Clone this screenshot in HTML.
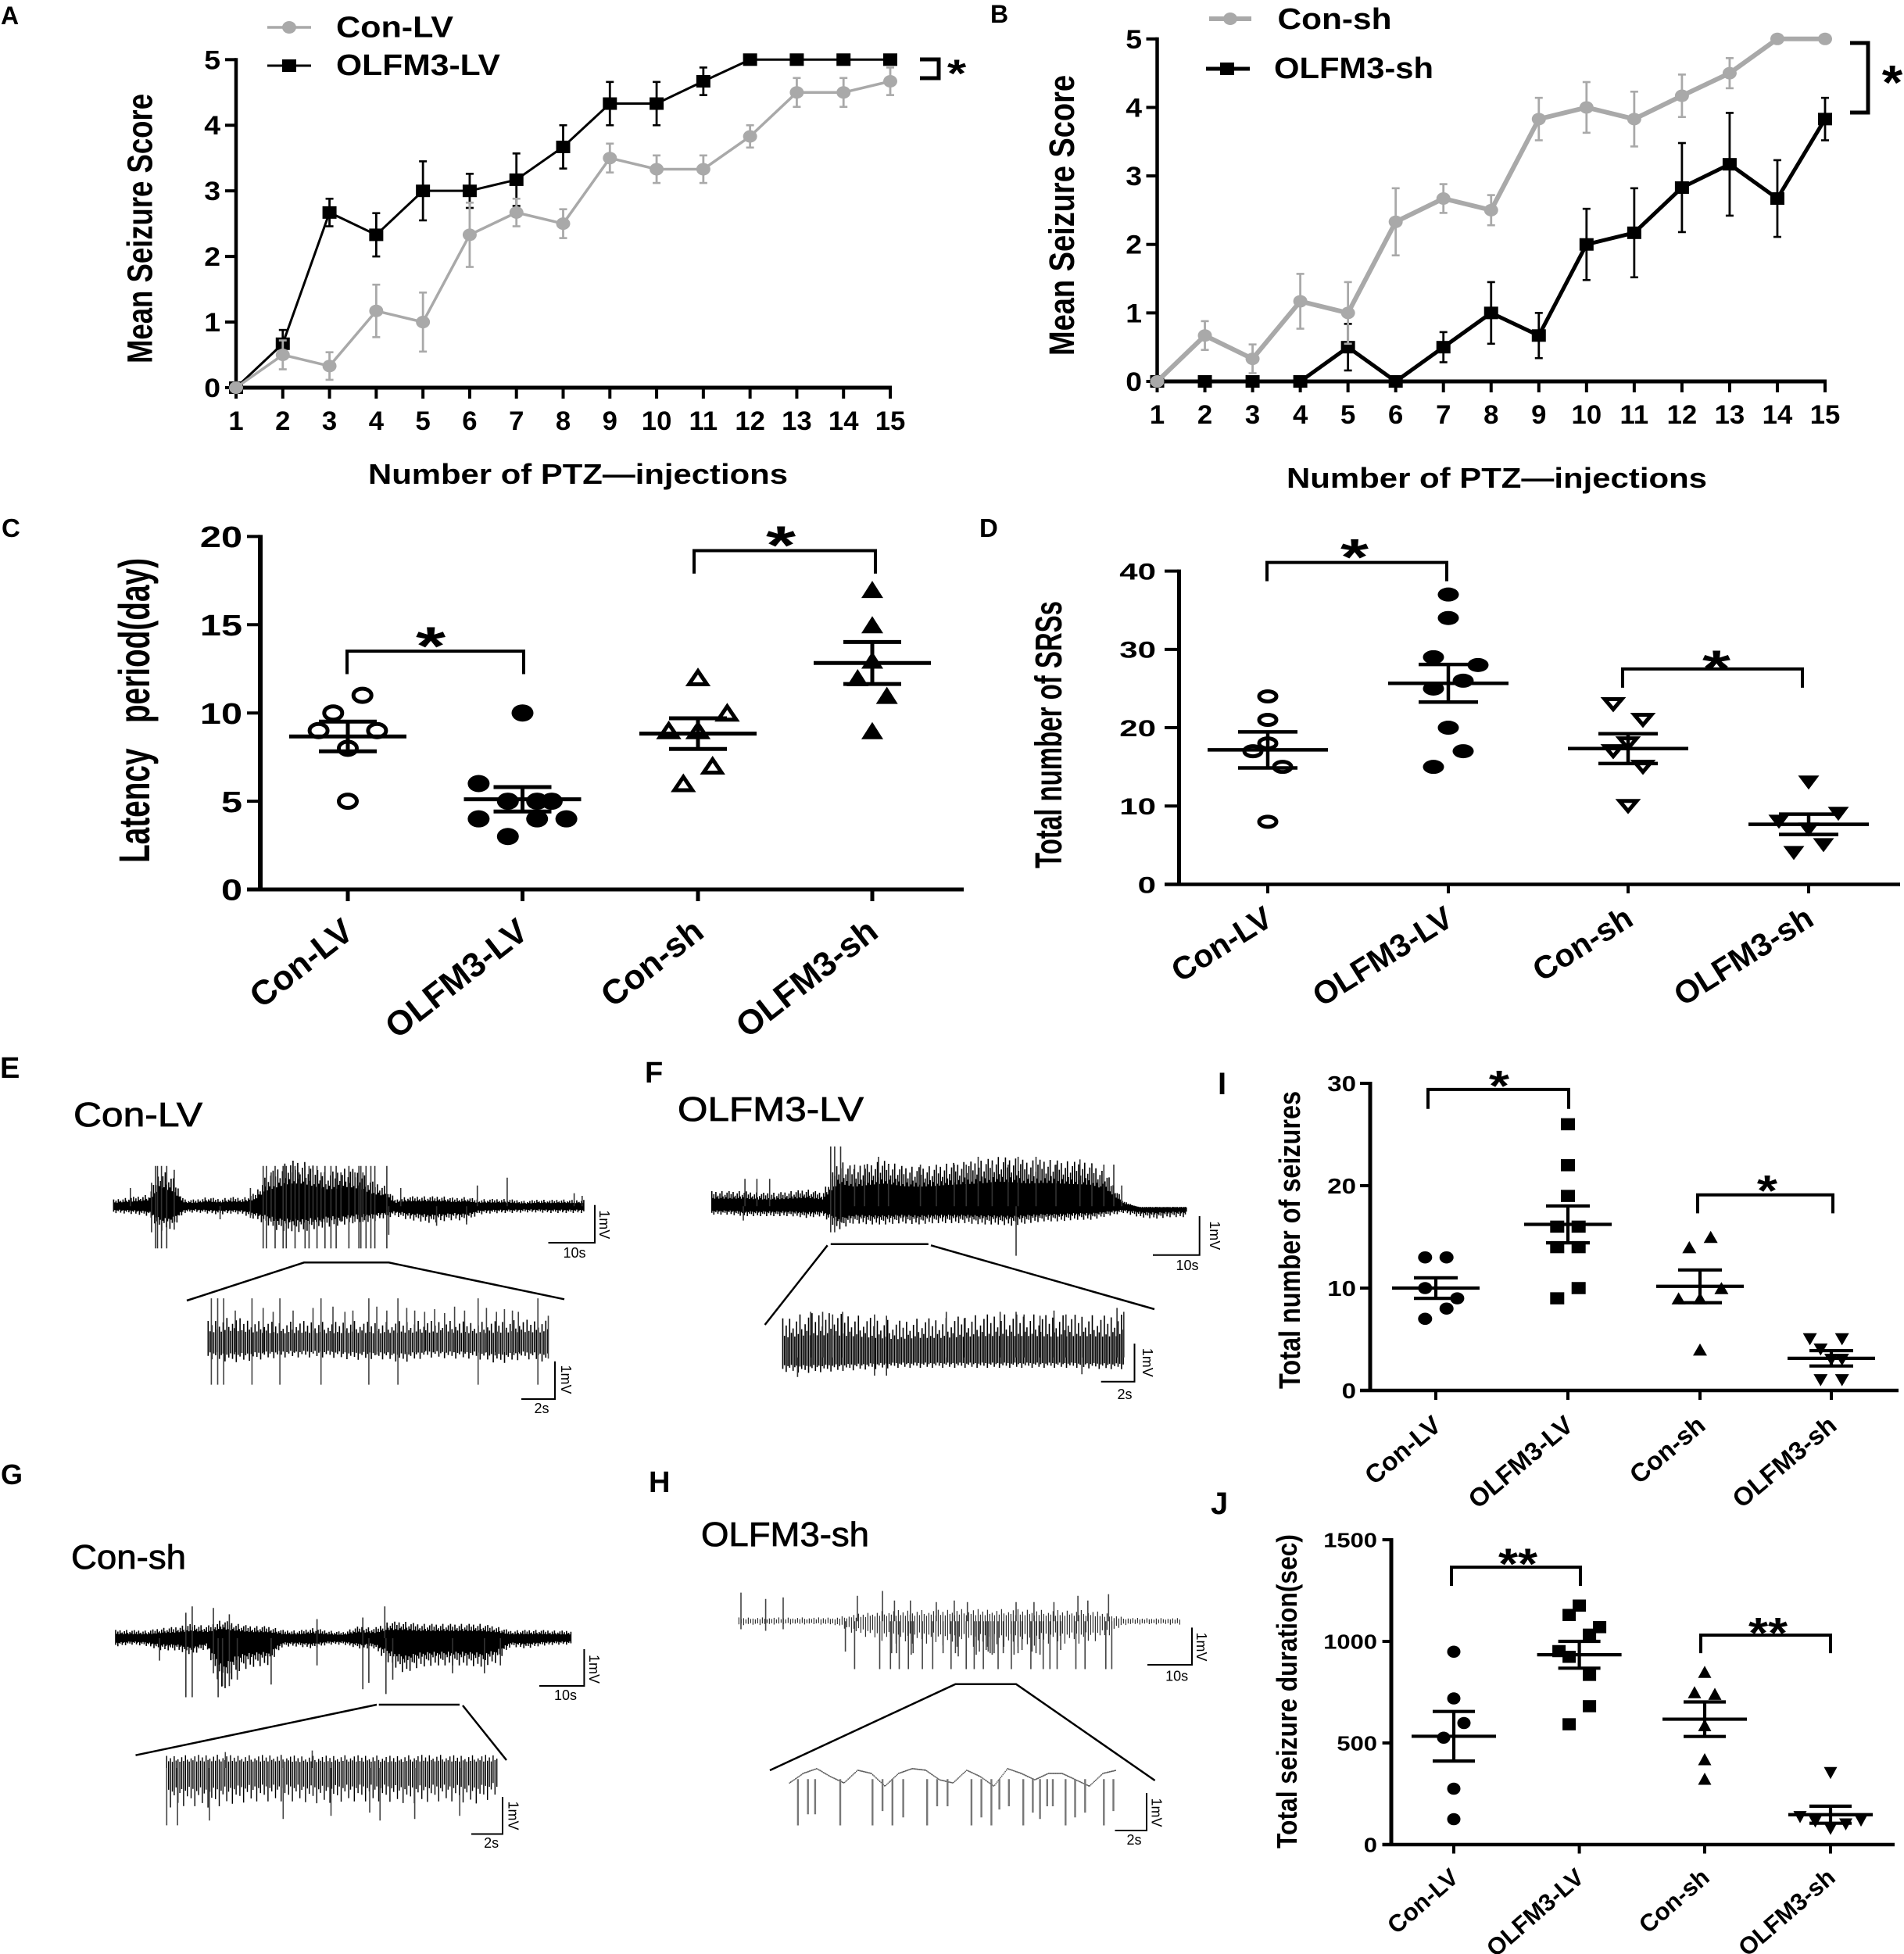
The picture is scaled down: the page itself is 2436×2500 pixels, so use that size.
<!DOCTYPE html>
<html lang="en">
<head>
<meta charset="utf-8">
<title>OLFM3 seizure figure</title>
<style>
html,body{margin:0;padding:0;background:#fff;}
svg{display:block;}
text{font-family:"Liberation Sans",sans-serif;fill:#000;}
.b{font-weight:bold;}
.title{font-size:44px;stroke:#000;stroke-width:.8px;}
.letter{font-weight:bold;font-size:38px;}
.scale{font-size:18px;}
.bar{fill:none;stroke:#000;stroke-width:2;}
.zoomline{fill:none;stroke:#000;stroke-width:2.5;}
</style>
</head>
<body>
<svg id="fig" xmlns="http://www.w3.org/2000/svg" width="2436" height="2500" viewBox="0 0 2436 2500">
<rect width="2436" height="2500" fill="#fff"/>

<!-- panel letters -->
<text class="letter" x="1" y="31" style="font-size:32px">A</text>
<text class="letter" x="1267" y="29" style="font-size:32px">B</text>
<text class="letter" x="2" y="687" style="font-size:33px">C</text>
<text class="letter" x="1253" y="687" style="font-size:33px">D</text>
<text class="letter" x="0" y="1379">E</text>
<text class="letter" x="825" y="1385">F</text>
<text class="letter" x="1" y="1899" style="font-size:36px">G</text>
<text class="letter" x="830" y="1909">H</text>
<text class="letter" x="1558" y="1400" style="font-size:40px">I</text>
<text class="letter" x="1549" y="1937" style="font-size:40px">J</text>

<!-- axis titles -->
<text class="b" transform="translate(194.5,465) rotate(-90)" font-size="45" textLength="345" lengthAdjust="spacingAndGlyphs">Mean Seizure Score</text>
<text class="b" x="471" y="619" font-size="36" textLength="537" lengthAdjust="spacingAndGlyphs">Number of PTZ—injections</text>
<text class="b" transform="translate(1374,455) rotate(-90)" font-size="45" textLength="359" lengthAdjust="spacingAndGlyphs">Mean Seizure Score</text>
<text class="b" x="1646" y="624" font-size="36" textLength="538" lengthAdjust="spacingAndGlyphs">Number of PTZ—injections</text>
<text class="b" transform="translate(191,1104) rotate(-90)" font-size="56" textLength="390" lengthAdjust="spacingAndGlyphs" xml:space="preserve">Latency&#160;&#160;&#160;period(day)</text>
<text class="b" transform="translate(1358,1111) rotate(-90)" font-size="48" textLength="342" lengthAdjust="spacingAndGlyphs">Total number of SRSs</text>
<text class="b" transform="translate(1663,1777) rotate(-90)" font-size="38" textLength="381" lengthAdjust="spacingAndGlyphs">Total number of seizures</text>
<text class="b" transform="translate(1659,2365) rotate(-90)" font-size="36" textLength="402" lengthAdjust="spacingAndGlyphs">Total seizure duration(sec)</text>

<!-- legends -->
<g>
<line x1="342" y1="35" x2="398" y2="35" stroke="#a9a9a9" stroke-width="3.5"/>
<ellipse cx="370" cy="35" rx="9" ry="8" fill="#a9a9a9"/>
<text class="b" x="430" y="47.7" font-size="38" textLength="150" lengthAdjust="spacingAndGlyphs">Con-LV</text>
<line x1="342" y1="84" x2="398" y2="84" stroke="#000" stroke-width="3"/>
<rect x="361" y="76" width="18" height="16" fill="#000"/>
<text class="b" x="430" y="96" font-size="38" textLength="210" lengthAdjust="spacingAndGlyphs">OLFM3-LV</text>
</g>
<g>
<line x1="1547" y1="24" x2="1601" y2="24" stroke="#a9a9a9" stroke-width="6"/>
<ellipse cx="1574" cy="24" rx="9" ry="8" fill="#a9a9a9"/>
<text class="b" x="1634.5" y="37" font-size="38" textLength="146" lengthAdjust="spacingAndGlyphs">Con-sh</text>
<line x1="1543" y1="88" x2="1599" y2="88" stroke="#000" stroke-width="5"/>
<rect x="1561" y="80" width="18" height="16" fill="#000"/>
<text class="b" x="1630" y="100" font-size="38" textLength="204" lengthAdjust="spacingAndGlyphs">OLFM3-sh</text>
</g>

<!-- significance brackets on line charts -->
<path d="M1177 76H1201V100H1177" fill="none" stroke="#000" stroke-width="5"/>
<text class="b" transform="translate(1224,111) scale(1.25,1)" font-size="50" text-anchor="middle">*</text>
<path d="M2367 55H2390V144H2367" fill="none" stroke="#000" stroke-width="5"/>
<text class="b" transform="translate(2421,127) scale(1.1,1)" font-size="62" text-anchor="middle">*</text>

<!-- EEG panel titles -->
<text class="title" x="94" y="1441" textLength="165" lengthAdjust="spacingAndGlyphs">Con-LV</text>
<text class="title" x="867" y="1434" textLength="238" lengthAdjust="spacingAndGlyphs">OLFM3-LV</text>
<text class="title" x="91" y="2007" textLength="147" lengthAdjust="spacingAndGlyphs">Con-sh</text>
<text class="title" x="897" y="1978" textLength="215" lengthAdjust="spacingAndGlyphs">OLFM3-sh</text>

<!-- expansion guide lines -->
<polyline class="zoomline" points="239,1664 389,1615.3 497.4,1615.3 722,1662.3"/>
<path class="zoomline" d="M978.6 1695L1058.7 1593.3M1062.8 1591.7H1187.8M1191 1593.3L1477 1675"/>
<path class="zoomline" d="M173.5 2245.7L482 2181M484.7 2181H588M592 2182L648 2252"/>
<polyline class="zoomline" points="985,2265 1222.4,2154.7 1300,2154.7 1477.6,2278"/>

<!-- scale bars -->
<g>
<polyline class="bar" points="761,1541.7 761,1590 701.5,1590"/>
<text class="scale" x="735" y="1609" text-anchor="middle">10s</text>
<text class="scale" transform="translate(767,1566.7) rotate(90)" text-anchor="middle">1mV</text>
</g>
<g>
<polyline class="bar" points="710,1741.7 710,1790 667,1790"/>
<text class="scale" x="693" y="1808" text-anchor="middle">2s</text>
<text class="scale" transform="translate(718,1765) rotate(90)" text-anchor="middle">1mV</text>
</g>
<g>
<polyline class="bar" points="1534.7,1556 1534.7,1605.7 1475,1605.7"/>
<text class="scale" x="1519" y="1625" text-anchor="middle">10s</text>
<text class="scale" transform="translate(1548,1580.7) rotate(90)" text-anchor="middle">1mV</text>
</g>
<g>
<polyline class="bar" points="1451.5,1719 1451.5,1767.7 1408.7,1767.7"/>
<text class="scale" x="1439" y="1790" text-anchor="middle">2s</text>
<text class="scale" transform="translate(1462,1743.3) rotate(90)" text-anchor="middle">1mV</text>
</g>
<g>
<polyline class="bar" points="747.4,2110 747.4,2157 690,2157"/>
<text class="scale" x="723.5" y="2175" text-anchor="middle">10s</text>
<text class="scale" transform="translate(754,2135.5) rotate(90)" text-anchor="middle">1mV</text>
</g>
<g>
<polyline class="bar" points="643,2299 643,2346.5 603,2346.5"/>
<text class="scale" x="628.6" y="2364" text-anchor="middle">2s</text>
<text class="scale" transform="translate(650.6,2323) rotate(90)" text-anchor="middle">1mV</text>
</g>
<g>
<polyline class="bar" points="1525,2082.4 1525,2130 1468,2130"/>
<text class="scale" x="1505.6" y="2150.5" text-anchor="middle">10s</text>
<text class="scale" transform="translate(1531,2107) rotate(90)" text-anchor="middle">1mV</text>
</g>
<g>
<polyline class="bar" points="1467,2294 1467,2342 1426.5,2342"/>
<text class="scale" x="1451" y="2360" text-anchor="middle">2s</text>
<text class="scale" transform="translate(1473.6,2319) rotate(90)" text-anchor="middle">1mV</text>
</g>
</svg>

<script>
/* ---------- line chart data ---------- */
const injectionTicks = [1,2,3,4,5,6,7,8,9,10,11,12,13,14,15];
const scoreTicks = [0,1,2,3,4,5];
const conLvScore = [0,.5,.33,1.17,1,2.33,2.67,2.5,3.5,3.33,3.33,3.83,4.5,4.5,4.67];
const conLvSem = [0,.22,.21,.4,.45,.49,.21,.22,.22,.21,.21,.17,.22,.22,.21];
const olfm3LvScore = [0,.67,2.67,2.33,3,3,3.17,3.67,4.33,4.33,4.67,5,5,5,5];
const olfm3LvSem = [0,.21,.21,.33,.45,.26,.4,.33,.33,.33,.21,0,0,0,0];
const conShScore = [0,.67,.33,1.17,1,2.33,2.67,2.5,3.83,4,3.83,4.17,4.5,5,5];
const conShSem = [0,.21,.21,.4,.45,.49,.21,.22,.31,.37,.4,.31,.22,0,0];
const olfm3ShScore = [0,0,0,0,.5,0,.5,1,.67,2,2.17,2.83,3.17,2.67,3.83];
const olfm3ShSem = [0,0,0,0,.34,0,.22,.45,.33,.52,.65,.65,.75,.56,.31];

/* ---------- scatter chart data ---------- */
const categories = ['Con-LV','OLFM3-LV','Con-sh','OLFM3-sh'];

const latencyTicks = [0,5,10,15,20];
const latencyValues = [[11,10,9,9,8,5],[10,6,5,5,5,4,4,4,3],[12,10,9,9,7,6],[17,15,13,12,11,9]];
const latencySlots = [[1,-1,-2,2,0,0],[0,-3,-1,1,2,-3,1,3,-1],[0,2,-2,0,1,-1],[0,0,0,-1,1,0]];
const latencyMeans = [8.67,5.11,8.83,12.83];
const latencySems = [.84,.69,.87,1.19];

const srsTicks = [0,10,20,30,40];
const srsValues = [[24,21,18,17,15,8],[37,34,29,28,26,25,20,17,15],[23,21,18,17,15,10],[13,9,8,7,5,4]];
const srsSlots = [[0,0,0,-1,1,0],[0,0,-1,2,1,-1,0,1,-1],[-1,1,0,-1,1,0],[0,2,-2,0,1,-1]];
const srsMeans = [17.17,25.67,17.33,7.67];
const srsSems = [2.3,2.4,1.9,1.3];

const seizureTicks = [0,10,20,30];
const seizureValues = [[13,13,10,9,8,7],[26,22,19,16,16,14,14,10,9],[15,14,10,9,9,4],[5,5,4,3,3,1,1]];
const seizureSlots = [[-1,1,-1,2,1,-1],[0,0,0,-1,1,-1,1,1,-1],[1,-1,2,-2,0,0],[-2,1,-1,0,1,-1,1]];
const seizureMeans = [10,16.22,10.17,3.14];
const seizureSems = [1,1.8,1.6,.75];

const durationTicks = [0,500,1000,1500];
const durationValues = [[949,719,598,526,275,125],[1176,1130,1070,1033,952,924,835,681,592],[850,750,742,588,420,324],[352,135,113,77,99,118]];
const durationSlots = [[0,0,1,-1,0,0],[0,-1,2,1,-2,-1,1,1,-1],[0,-1,1,0,0,0],[0,-3,-1.5,0,1.5,3]];
const durationMeans = [533,934,617,147];
const durationSems = [122,66,85,42];

/* ---------- EEG traces: amplitude envelopes and spike lists (in ADC counts) ---------- */
const eTopUp = [26,32,38,45,140,115,26,26,36,28,36,32,50,120,150,175,175,155,130,135,150,130,95,80,26,38,38,38,38,32,36,26,28,28,26,20,26,24,26,24,24];
const eTopDown = [26,28,32,38,95,85,26,24,28,32,28,32,50,70,95,95,100,88,80,75,68,60,60,45,38,52,58,65,58,52,58,32,28,26,26,24,24,26,26,26,26];
const eTopSpikeT = [390,395,405,418,437,380,660,668,690,710,718,740,765,775,795,815,830,843,875,900,905,918,930,940,970,680,730,750,785,805,855,890,910,1005,1197,1272,1095,1170,1440,1460,552,628,327,975];
const eTopSpikeU = [155,155,155,155,140,90,155,155,155,155,155,155,155,155,155,155,155,155,155,155,155,155,155,155,155,130,130,130,130,130,130,130,130,70,80,110,0,0,50,40,0,70,70,0];
const eTopSpikeD = [162,162,162,162,90,100,162,162,162,162,162,162,162,162,162,162,162,162,162,162,162,162,162,162,162,60,60,60,60,60,60,60,60,0,0,0,75,70,0,0,50,45,0,110];

const eDetailUp = [90,105,90,85,90,85,90,85,90,90,90,85,90,95,90];
const eDetailDown = [55,70,60,50,50,50,60,55,70,50,55,55,75,55,70];
const eDetailSpikeT = [530,546,561,632,702,805,925,998,1199,1349,590,660,685,735,785,835,865,885,945,970,1020,1040,1065,1090,1115,1140,1165,1220,1245,1265,1285,1300,1375];
const eDetailSpikeU = [177,177,177,177,177,177,177,177,177,177,130,140,125,130,140,145,125,130,145,130,140,130,125,135,120,145,130,140,125,135,130,125,110];
const eDetailSpikeD = [155,155,155,155,155,155,155,155,155,155,30,30,30,30,30,30,30,30,40,30,30,30,30,30,30,30,30,30,30,30,30,30,55];

const fTopUp = [58,58,58,52,52,58,65,52,175,150,165,175,155,150,155,165,170,175,190,185,175,180,175,170,165,120,20,-5,-5,-5,-5];
const fTopDown = [32,32,38,38,38,38,45,38,90,65,70,70,65,70,65,65,65,70,70,75,65,58,58,52,52,38,26,42,48,42,42];
const fTopSpikeT = [515,525,540,635,885,985,1030,1140,1245,980,300,330,362,296,575,600,660,740,780,825,855,920,960,1080,1170,1200,1225];
const fTopSpikeU = [230,230,230,190,190,190,190,180,80,0,105,105,105,0,160,160,160,160,160,160,160,160,160,160,160,160,160];
const fTopSpikeD = [100,100,60,0,0,0,0,0,0,190,0,0,0,55,0,0,0,0,0,0,0,0,0,0,0,0,0];

const fDetailUp = [150,170,170,165,150,140,150,150,160,165,165,165,160,165,160,165];
const fDetailDown = [55,60,55,50,45,40,40,40,40,40,40,40,40,40,45,45];
const fDetailSpikeT = [465,495,520,545,625,655,805,850,940,980,1000,1040,1075,1105,1233,1250,432,1145];
const fDetailSpikeU = [175,175,165,175,165,160,175,150,175,175,165,160,180,165,190,175,0,0];
const fDetailSpikeD = [0,0,0,0,70,70,0,0,0,0,0,0,0,0,0,0,75,65];

const gTopUp = [26,26,24,32,36,45,38,58,45,38,38,26,24,32,24,20,38,32,52,52,45,45,45,45,45,38,24,26,26,24,24];
const gTopDown = [26,20,24,38,38,52,32,170,105,90,85,26,26,32,20,20,32,32,78,110,90,85,85,85,90,78,26,32,24,20,20];
const gTopSpikeT = [466,482,547,535,558,575,595,680,910,925,965,968,985,1135,1215,1255,400,795];
const gTopSpikeU = [80,100,0,95,0,75,0,0,65,0,100,0,0,0,0,0,0,60];
const gTopSpikeD = [185,185,185,110,150,150,130,145,160,140,0,175,130,110,110,85,70,85];

const gDetailUp = [38,40,42,40,40,42,38,38,40,40,38,40,42,40,40,42];
const gDetailDown = [125,118,125,112,105,105,105,112,105,105,105,112,105,105,112,90];
const gDetailSpikeT = [418,445,525,710,830,953,1040,1153,927,783,565];
const gDetailSpikeU = [0,0,0,0,0,0,0,0,0,55,50];
const gDetailSpikeD = [180,180,165,160,150,165,160,150,140,0,0];

const hTopUp = [12,12,12,12,12,12,22,30,35,35,35,38,38,38,38,38,35,35,35,28,12,10,10,10];
const hTopDown = [12,12,10,10,10,12,40,55,70,70,70,80,80,80,80,80,70,70,70,55,12,10,10,12];
const hTopSpikeT = [575,638,665,687,710,745,771,817,855,875,898,935,968,1017,1048,1065,1083,1130,1153,1205,1220,552,668,680,717,722,797,828,835,880,888,905,910,915,920,925,948,975,985,995,1020,1030,1040,1092,290,352,396,582,645,675,715,780,825,858,980,1025,1075,1135,1160,1212];
const hTopSpikeU = [0,0,0,0,0,0,0,0,0,0,0,0,0,0,0,0,0,0,0,0,0,0,0,0,0,0,0,0,0,0,0,0,0,0,0,0,0,0,0,0,0,0,0,0,90,70,75,80,95,65,65,60,65,60,60,60,60,80,65,85];
const hTopSpikeD = [150,150,150,150,150,150,150,150,150,150,150,150,150,150,150,150,150,150,150,150,150,95,100,100,105,100,100,100,110,105,95,90,95,100,105,100,100,105,100,90,95,100,105,90,25,30,25,0,0,0,0,0,0,0,0,0,0,0,0,0];

const hDetailUp = [-10,20,35,10,-10,30,20,-20,20,35,30,0,-10,30,10,-20,35,20,0,20,20,0,-20,20,30];
const hDetailDown = [14,-16,-31,-6,14,-26,-16,24,-16,-31,-26,4,14,-26,-6,24,-31,-16,4,-16,-16,4,24,-16,-26];
const hDetailSpikeT = [433,458,476,539,620,645,670,697,757,782,808,868,893,918,938,962,998,1022,1040,1058,1072,1104,1128,1153,1200,1224];
const hDetailSpikeD = [145,110,110,145,145,100,145,120,145,85,85,145,120,145,95,85,145,105,125,85,85,145,120,105,145,100];

/* decorative ragged-edge patterns for the dense EEG bands */
const jagUp = [1,.55,.8,.5,.95,.6,.7,.5,.85,.55,1,.65,.5,.75,.6,.9,.5];
const jagDown = [.8,.55,1,.6,.7,.5,.9,.65,.55,1,.6,.75,.5];

/* ---------- helpers ---------- */
const NS = 'http://www.w3.org/2000/svg';
const root = document.getElementById('fig');

function mk(parent, tag, props, name) {
  const n = document.createElementNS(NS, tag);
  for (const k in props) n.setAttribute(k, props[k]);
  
  
  parent.appendChild(n);
  return n;
}
function label(parent, str, x, y, o, name) {
  const t = mk(parent, 'text', {
    transform: 'translate(' + x + ',' + y + ') rotate(' + (o.rot || 0) + ') scale(' + (o.sx || 1) + ',1)',
    'font-size': o.fs, 'font-weight': 'bold', 'text-anchor': o.anchor || 'middle'
  }, name);
  t.textContent = str;
  return t;
}
function hv(parent, x1, y1, x2, y2, stroke, w, name) {
  return mk(parent, 'line', {x1: x1, y1: y1, x2: x2, y2: y2, stroke: stroke, 'stroke-width': w}, name);
}

/* ---------- line charts ---------- */
function lineChart(p) {
  const g = mk(root, 'g', {}, p.name);
  const X = v => p.xL + (v - 1) / 14 * (p.xR - p.xL);
  const Y = v => p.y0 - v / 5 * (p.y0 - p.yT);
  hv(g, X(1), p.y0 + 2, X(1), Y(5) - 2, '#000', 4.5, p.name + '-y-axis');
  hv(g, X(1) - 2, p.y0, X(15) + 2, p.y0, '#000', 5, p.name + '-x-axis');
  scoreTicks.forEach(v => {
    hv(g, X(1) - 14, Y(v), X(1), Y(v), '#000', 4, p.name + '-y-tick');
    label(g, String(v), p.labelR, Y(v) + 12, {fs: 34, sx: 1.1, anchor: 'end'}, p.name + '-y-tick-label');
  });
  injectionTicks.forEach(v => {
    hv(g, X(v), p.y0, X(v), p.y0 + 14, '#000', 4, p.name + '-x-tick');
    label(g, String(v), X(v), p.xLabelY, {fs: 34, sx: 1.02}, p.name + '-x-tick-label');
  });
  p.series.forEach(s => {
    const sg = mk(g, 'g', {}, s.name);
    const pts = s.values.map((v, i) => X(injectionTicks[i]) + ',' + Y(v)).join(' ');
    mk(sg, 'polyline', {points: pts, fill: 'none', stroke: s.color, 'stroke-width': s.width}, s.name + '-line');
    s.values.forEach((v, i) => {
      const x = X(injectionTicks[i]);
      if (s.sem[i] > 0) {
        hv(sg, x, Y(v + s.sem[i]), x, Y(v - s.sem[i]), s.color, 2.8, s.name + '-error-bar');
        hv(sg, x - 5, Y(v + s.sem[i]), x + 5, Y(v + s.sem[i]), s.color, 2.6, s.name + '-error-cap');
        hv(sg, x - 5, Y(v - s.sem[i]), x + 5, Y(v - s.sem[i]), s.color, 2.6, s.name + '-error-cap');
      }
      if (s.square) mk(sg, 'rect', {x: x - 9, y: Y(v) - 8, width: 18, height: 16, fill: s.color}, s.name + '-point');
      else mk(sg, 'ellipse', {cx: x, cy: Y(v), rx: 9, ry: 8, fill: s.color}, s.name + '-point');
    });
  });
}
lineChart({name: 'chart-a', xL: 302, xR: 1139, y0: 496, yT: 76.3, labelR: 282, xLabelY: 550, series: [
  {name: 'series-olfm3-lv', values: olfm3LvScore, sem: olfm3LvSem, color: '#000', width: 3, square: true},
  {name: 'series-con-lv', values: conLvScore, sem: conLvSem, color: '#a9a9a9', width: 3.5, square: false}
]});
lineChart({name: 'chart-b', xL: 1480.5, xR: 2335, y0: 488, yT: 49.8, labelR: 1461, xLabelY: 542, series: [
  {name: 'series-olfm3-sh', values: olfm3ShScore, sem: olfm3ShSem, color: '#000', width: 5, square: true},
  {name: 'series-con-sh', values: conShScore, sem: conShSem, color: '#a9a9a9', width: 6, square: false}
]});

/* ---------- scatter charts ---------- */
function marker(g, kind, x, y, w, h, open, sw, name) {
  const base = open ? {fill: 'none', stroke: '#000', 'stroke-width': sw} : {fill: '#000'};
  const ow = open ? w - sw : w, oh = open ? h - sw : h;
  if (kind === 'circle') {
    return mk(g, 'ellipse', Object.assign({cx: x, cy: y, rx: ow / 2, ry: oh / 2}, base), name);
  }
  if (kind === 'square') {
    return mk(g, 'rect', Object.assign({x: x - ow / 2, y: y - oh / 2, width: ow, height: oh}, base), name);
  }
  const d = kind === 'up' ? 1 : -1;
  const pts = (x - ow / 2) + ',' + (y + d * oh / 2) + ' ' + (x + ow / 2) + ',' + (y + d * oh / 2) + ' ' + x + ',' + (y - d * oh / 2);
  return mk(g, 'polygon', Object.assign({points: pts}, base), name);
}
function scatter(p) {
  const g = mk(root, 'g', {}, p.name);
  const Y = v => p.y0 - v / p.yMax * (p.y0 - p.yT);
  hv(g, p.axisX, p.y0 + 2, p.axisX, p.yT - 2, '#000', p.axisW, p.name + '-y-axis');
  hv(g, p.xAxisL, p.y0, p.xAxisR, p.y0, '#000', p.baseW, p.name + '-x-axis');
  p.ticks.forEach(v => {
    hv(g, p.xAxisL, Y(v), p.axisX, Y(v), '#000', 4, p.name + '-y-tick');
    label(g, String(v), p.labelR, Y(v) + p.tickFs * .36, {fs: p.tickFs, sx: p.tickSx, anchor: 'end'}, p.name + '-y-tick-label');
  });
  categories.forEach((c, i) => {
    const cx = p.catX[i];
    hv(g, cx, p.y0, cx, p.tickEnd, '#000', p.axisW - 1, p.name + '-x-tick');
    label(g, c, cx + p.catDx, p.catY, {fs: p.catFs, rot: p.catRot, anchor: 'end'}, p.name + '-category-label');
    const sg = mk(g, 'g', {}, p.name + '-group-' + c.toLowerCase());
    p.values[i].forEach((v, j) => {
      marker(sg, p.shapes[i], cx + p.slots[i][j] * p.slotPx, Y(v), p.mw, p.mh, p.open[i], 5, p.name + '-point');
    });
    const m = p.means[i], s = p.sems[i];
    hv(sg, cx - p.meanHalf, Y(m), cx + p.meanHalf, Y(m), '#000', p.lw, p.name + '-mean-line');
    hv(sg, cx, Y(m + s), cx, Y(m - s), '#000', p.lw, p.name + '-error-bar');
    hv(sg, cx - p.capHalf, Y(m + s), cx + p.capHalf, Y(m + s), '#000', p.lw, p.name + '-error-cap');
    hv(sg, cx - p.capHalf, Y(m - s), cx + p.capHalf, Y(m - s), '#000', p.lw, p.name + '-error-cap');
  });
  p.brackets.forEach(b => {
    mk(g, 'path', {d: 'M' + b.x1 + ' ' + Y(b.low) + 'V' + Y(b.top) + 'H' + b.x2 + 'V' + Y(b.low), fill: 'none', stroke: '#000', 'stroke-width': 4}, p.name + '-significance-bracket');
    label(g, b.mark, b.starX, Y(b.top) - b.gap + p.starFs * .53, {fs: p.starFs, sx: p.starSx}, p.name + '-significance-star');
  });
}
scatter({name: 'chart-c', axisX: 333, axisW: 6, baseW: 5, xAxisL: 316, xAxisR: 1233, y0: 1138, yT: 686.4, yMax: 20, ticks: latencyTicks,
  labelR: 310, tickFs: 38, tickSx: 1.28, tickEnd: 1153, catX: [445,668.5,893,1116], catDx: 10, catY: 1197, catFs: 44, catRot: -38,
  values: latencyValues, slots: latencySlots, means: latencyMeans, sems: latencySems, slotPx: 18.7,
  shapes: ['circle','circle','up','up'], open: [true,false,true,false], mw: 28, mh: 22, meanHalf: 75, capHalf: 37, lw: 5,
  starFs: 70, starSx: 1.4,
  brackets: [{x1:444,x2:670,top:13.5,low:12.2,mark:'*',starX:551,gap:20},{x1:888,x2:1120,top:19.2,low:17.9,mark:'*',starX:999,gap:20}]});
scatter({name: 'chart-d', axisX: 1508.5, axisW: 5, baseW: 4.5, xAxisL: 1490, xAxisR: 2431, y0: 1131.5, yT: 730.6, yMax: 40, ticks: srsTicks,
  labelR: 1479, tickFs: 30, tickSx: 1.4, tickEnd: 1143, catX: [1622,1853,2083,2314], catDx: 9, catY: 1182, catFs: 41, catRot: -32,
  values: srsValues, slots: srsSlots, means: srsMeans, sems: srsSems, slotPx: 19,
  shapes: ['circle','circle','down','down'], open: [true,false,true,false], mw: 27, mh: 18, meanHalf: 77, capHalf: 38, lw: 4.5,
  starFs: 66, starSx: 1.4,
  brackets: [{x1:1621,x2:1851,top:41.1,low:38.7,mark:'*',starX:1733,gap:19},{x1:2076,x2:2306,top:27.5,low:25.1,mark:'*',starX:2196,gap:13}]});
scatter({name: 'chart-i', axisX: 1753, axisW: 5, baseW: 4.5, xAxisL: 1740, xAxisR: 2429, y0: 1779, yT: 1386, yMax: 30, ticks: seizureTicks,
  labelR: 1735, tickFs: 28, tickSx: 1.18, tickEnd: 1791, catX: [1837,2006,2175,2343], catDx: 9, catY: 1827, catFs: 33, catRot: -40,
  values: seizureValues, slots: seizureSlots, means: seizureMeans, sems: seizureSems, slotPx: 13.7,
  shapes: ['circle','square','up','down'], open: [false,false,false,false], mw: 18, mh: 15.5, meanHalf: 56, capHalf: 28, lw: 4.2,
  starFs: 56, starSx: 1.2,
  brackets: [{x1:1827,x2:2007,top:29.4,low:27.5,mark:'*',starX:1918,gap:15},{x1:2172,x2:2345,top:19.1,low:17.3,mark:'*',starX:2261,gap:16}]});
scatter({name: 'chart-j', axisX: 1780, axisW: 5, baseW: 4.5, xAxisL: 1768.6, xAxisR: 2424, y0: 2360, yT: 1970, yMax: 1500, ticks: durationTicks,
  labelR: 1762, tickFs: 26, tickSx: 1.19, tickEnd: 2371.5, catX: [1860,2020.6,2181,2342], catDx: 8, catY: 2405, catFs: 31, catRot: -41,
  values: durationValues, slots: durationSlots, means: durationMeans, sems: durationSems, slotPx: 13,
  shapes: ['circle','square','up','down'], open: [false,false,false,false], mw: 17, mh: 15.5, meanHalf: 54, capHalf: 27, lw: 4.2,
  starFs: 56, starSx: 1.15,
  brackets: [{x1:1857,x2:2022,top:1365,low:1273,mark:'**',starX:1942,gap:15},{x1:2176,x2:2342,top:1031,low:942,mark:'**',starX:2262,gap:13}]});

/* ---------- EEG traces ---------- */
function sampleEnv(arr, f) {
  const p = f * (arr.length - 1), i = Math.min(Math.floor(p), arr.length - 2), r = p - i;
  return arr[i] * (1 - r) + arr[i + 1] * r;
}
function trace(c) {
  const g = mk(root, 'g', {}, c.name);
  let d = '';
  const span = c.x1 - c.x0;
  let k = 0;
  for (let x = c.x0; x <= c.x1; x += c.step, k++) {
    const f = (x - c.x0) / span;
    const ju = c.jag ? jagUp[k % jagUp.length] : 1;
    const jd = c.jag ? jagDown[k % jagDown.length] : 1;
    const u = sampleEnv(c.up, f) * ju * c.scale;
    const l = sampleEnv(c.down, f) * jd * c.scale;
    d += 'M' + x.toFixed(1) + ' ' + (c.yBase - u).toFixed(1) + 'V' + (c.yBase + l).toFixed(1);
  }
  mk(g, 'path', {d: d, fill: 'none', stroke: c.color, 'stroke-width': c.combWidth}, c.name + '-band');
  let s = '';
  c.spikeT.forEach((t, i) => {
    const x = c.x0 + (t - c.tStart) / (c.tEnd - c.tStart) * span;
    const u = c.spikeU ? c.spikeU[i] : 0;
    const l = c.spikeD ? c.spikeD[i] : 0;
    s += 'M' + x.toFixed(1) + ' ' + (c.yBase - u * c.scale).toFixed(1) + 'V' + (c.yBase + l * c.scale).toFixed(1);
  });
  mk(g, 'path', {d: s, fill: 'none', stroke: c.spikeColor, 'stroke-width': c.spikeW || 1.6}, c.name + '-spikes');
}
trace({name: 'trace-e-overview', x0: 145.4, x1: 747.4, tStart: 285, tEnd: 1465, yBase: 1543.3, scale: .333, step: 1.5, combWidth: 1.6, jag: true, color: '#000', spikeColor: '#333',
  up: eTopUp, down: eTopDown, spikeT: eTopSpikeT, spikeU: eTopSpikeU, spikeD: eTopSpikeD});
trace({name: 'trace-e-detail', x0: 266.3, x1: 702, tStart: 522, tEnd: 1376, yBase: 1720, scale: .333, step: 2.4, combWidth: 1.6, jag: true, color: '#000', spikeColor: '#444',
  up: eDetailUp, down: eDetailDown, spikeT: eDetailSpikeT, spikeU: eDetailSpikeU, spikeD: eDetailSpikeD});
trace({name: 'trace-f-overview', x0: 910.7, x1: 1518.4, tStart: 217, tEnd: 1408, yBase: 1543.3, scale: .333, step: 1.3, combWidth: 1.6, jag: true, color: '#000', spikeColor: '#333',
  up: fTopUp, down: fTopDown, spikeT: fTopSpikeT, spikeU: fTopSpikeU, spikeD: fTopSpikeD});
trace({name: 'trace-f-detail', x0: 1001.5, x1: 1439.3, tStart: 395, tEnd: 1253, yBase: 1736.7, scale: .333, step: 2.2, combWidth: 1.6, jag: true, color: '#000', spikeColor: '#333',
  up: fDetailUp, down: fDetailDown, spikeT: fDetailSpikeT, spikeU: fDetailSpikeU, spikeD: fDetailSpikeD});
trace({name: 'trace-g-overview', x0: 148, x1: 731, tStart: 290, tEnd: 1433, yBase: 2096, scale: .408, step: 1.4, combWidth: 1.6, jag: true, color: '#000', spikeColor: '#333',
  up: gTopUp, down: gTopDown, spikeT: gTopSpikeT, spikeU: gTopSpikeU, spikeD: gTopSpikeD});
trace({name: 'trace-g-detail', x0: 213.3, x1: 636.7, tStart: 418, tEnd: 1248, yBase: 2262, scale: .408, step: 2.4, combWidth: 1.4, jag: true, color: '#000', spikeColor: '#444',
  up: gDetailUp, down: gDetailDown, spikeT: gDetailSpikeT, spikeU: gDetailSpikeU, spikeD: gDetailSpikeD});
trace({name: 'trace-h-overview', x0: 945.4, x1: 1511.7, tStart: 285, tEnd: 1395, yBase: 2074.3, scale: .408, step: 3, combWidth: 1.2, jag: true, color: '#333', spikeColor: '#444',
  up: hTopUp, down: hTopDown, spikeT: hTopSpikeT, spikeU: hTopSpikeU, spikeD: hTopSpikeD});
trace({name: 'trace-h-detail', x0: 1010.2, x1: 1428.6, tStart: 412, tEnd: 1232, yBase: 2276.3, scale: .408, step: 1.5, combWidth: 1.4, jag: false, color: '#555', spikeColor: '#777', spikeW: 2.4,
  up: hDetailUp, down: hDetailDown, spikeT: hDetailSpikeT, spikeD: hDetailSpikeD});
</script>
</body>
</html>
